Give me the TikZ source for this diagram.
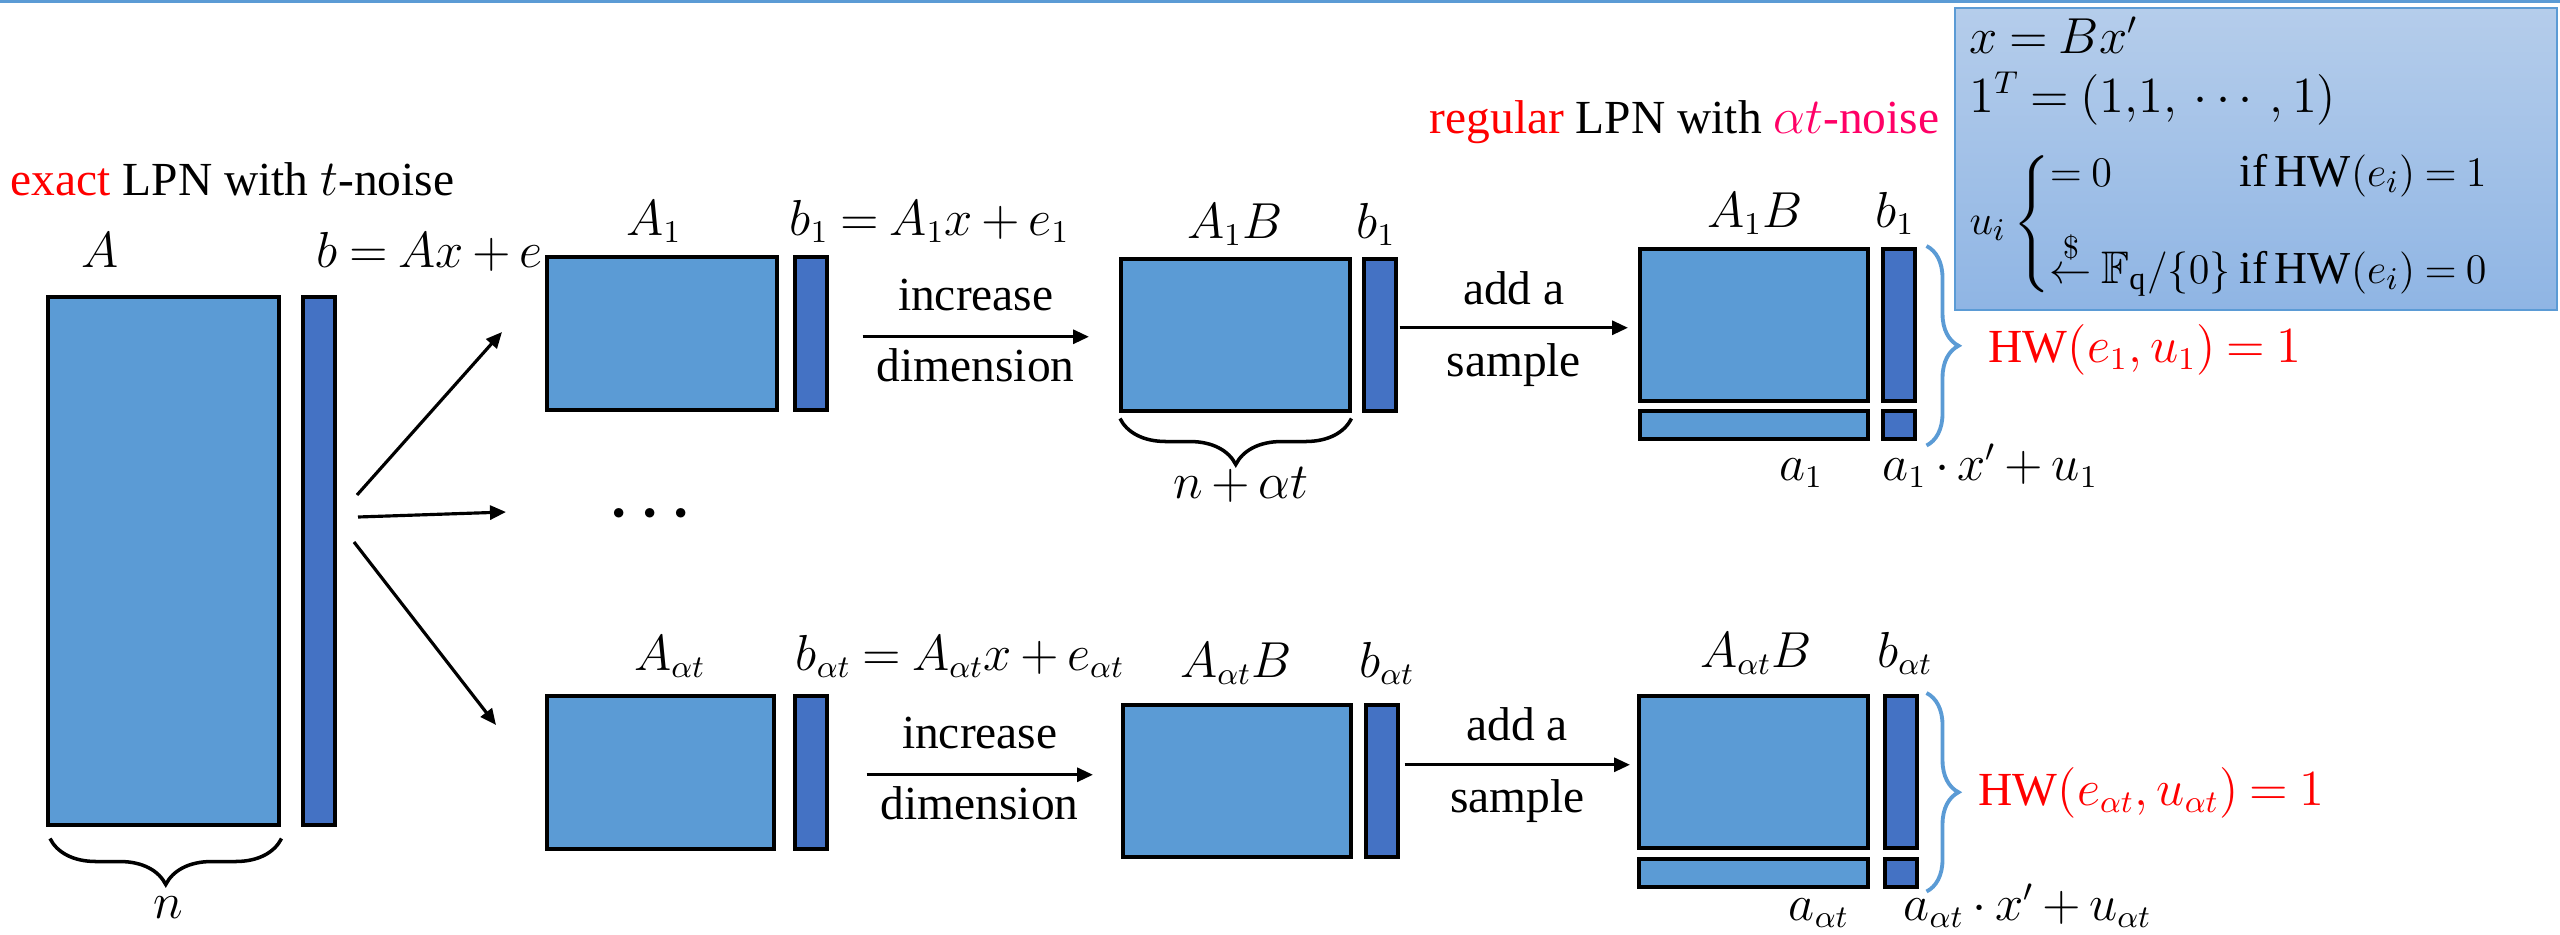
\documentclass[tikz,border=0pt]{standalone}
\usepackage{amsmath,amssymb}
\usepackage{fontspec}
\setmainfont{Liberation Serif}
\usetikzlibrary{arrows.meta,calc,decorations.pathreplacing}
\definecolor{matblue}{RGB}{91,155,213}
\definecolor{vecblue}{RGB}{68,114,196}
\definecolor{boxtop}{RGB}{181,205,235}
\definecolor{boxbot}{RGB}{143,181,228}
\definecolor{lpnpink}{RGB}{255,0,102}
\thickmuskip=4mu plus 2mu
\medmuskip=3mu plus 1mu minus 2mu
\begin{document}
\begin{tikzpicture}[x=0.1mm, y=-0.1mm,
  every node/.style={font=\fontsize{13.5}{16}\selectfont, inner sep=0pt},
  mat/.style={draw, line width=1pt, fill=matblue, anchor=north west},
  vec/.style={draw, line width=1pt, fill=vecblue, anchor=north west, minimum width=3.2mm},
  arr/.style={-{Triangle[length=1.6mm,width=1.4mm]}, line width=0.9pt},
  bbrace/.style={decorate, decoration={brace, amplitude=4.6mm}, line width=1pt},
  hwbrace/.style={decorate, decoration={brace, amplitude=3.2mm}, line width=1.1pt, matblue}]
\useasboundingbox (0,0) rectangle (2560,934);
\fill[matblue] (0,0) rectangle (2560,3);

% LPN instance with t-noise
\node[anchor=base west] (lexact) at (10,195) {\textcolor{red}{exact} LPN with $t$-noise};
\node[anchor=base] (lA) at (100,267) {$A$};
\node[anchor=base west] (lb) at (316,267) {$b = Ax + e$};
\node[mat, minimum width=23.1mm, minimum height=52.8mm] (A) at (46,295) {};
\node[vec, minimum height=52.8mm] (b) at (301,295) {};
\draw[bbrace] ($(A.south east)+(1,12)$) -- ($(A.south west)+(4,12)$);
\node[anchor=base] (ln) at (168,918) {$n$};

% split
\coordinate (fanup) at (357,495);
\coordinate (fanmid) at (358,517);
\coordinate (fanlow) at (354,542);
\coordinate (tipup) at (502,332);
\coordinate (tipmid) at (506,512);
\coordinate (tiplow) at (496,725);
\draw[arr] (fanup) -- (tipup);
\draw[arr] (fanmid) -- (tipmid);
\draw[arr] (fanlow) -- (tiplow);
\node (ldots) at (656,514) {\fontsize{18}{20}\selectfont$\boldsymbol{\cdots}$};

% first sample block
\node[mat, minimum width=23mm, minimum height=15.3mm] (A1) at (545,255) {};
\node[vec, minimum height=15.3mm] (b1) at (793,255) {};
\node[anchor=base] (lA1) at (654,235) {$A_1$};
\node[anchor=base west] (lb1) at (789,235) {$b_1 = A_1x + e_1$};

\node[mat, minimum width=22.9mm, minimum height=15.2mm] (A1B) at (1119,257) {};
\node[vec, minimum height=15.2mm] (b1B) at (1362,257) {};
\node[anchor=base] (lA1B) at (1235,238) {$A_1B$};
\node[anchor=base] (lb1B) at (1376,238) {$b_1$};
\draw[bbrace] ($(A1B.south east)+(0,6)$) -- ($(A1B.south west)+(1,6)$);
\node[anchor=base] (lnat) at (1241,498) {$n + \alpha t$};

\draw[arr] ($(b1.east)+(34,3.5)$) -- ($(b1.east -| A1B.west)+(-30,3.5)$)
  node[midway, anchor=base, yshift=2.6mm] {increase}
  node[midway, anchor=base, yshift=-4.5mm] {dimension};

\node[mat, minimum width=22.8mm, minimum height=15.2mm] (A1Br) at (1638,247) {};
\node[vec, minimum height=15.2mm] (b1r) at (1881,247) {};
\node[mat, minimum width=22.8mm, minimum height=2.8mm] (a1) at (1638,409) {};
\node[vec, minimum height=2.8mm] (u1) at (1881,409) {};
\node[anchor=base] (lA1Br) at (1755,227) {$A_1B$};
\node[anchor=base] (lb1r) at (1895,227) {$b_1$};
\node[anchor=base] (la1) at (1801,480) {$a_1$};
\node[anchor=base west] (lax1) at (1882,480) {$a_1 \cdot x' + u_1$};
\draw[hwbrace] ($(b1r.north east)+(10,-1)$) -- ($(u1.south east)+(10,5)$);
\node[anchor=base west, text=red] (lhw1) at (1988,362) {$\mathrm{HW}(e_1,u_1) = 1$};

\draw[arr] ($(b1B.east)+(2,-7)$) -- ($(b1B.east -| A1Br.west)+(-10,-7)$)
  node[midway, anchor=base, yshift=2.3mm] {add a}
  node[midway, anchor=base, yshift=-4.9mm] {sample};

% last sample block
\node[mat, minimum width=22.7mm, minimum height=15.3mm] (Aat) at (545,694) {};
\node[vec, minimum height=15.3mm] (bat) at (793,694) {};
\node[anchor=base] (lAat) at (670,670) {$A_{\alpha t}$};
\node[anchor=base west] (lbat) at (795,670) {$b_{\alpha t} = A_{\alpha t}x + e_{\alpha t}$};

\node[mat, minimum width=22.8mm, minimum height=15.2mm] (AatB) at (1121,703) {};
\node[vec, minimum height=15.2mm] (batB) at (1364,703) {};
\node[anchor=base] (lAatB) at (1236,677) {$A_{\alpha t}B$};
\node[anchor=base] (lbatB) at (1387,677) {$b_{\alpha t}$};

\draw[arr] ($(bat.east)+(38,2.5)$) -- ($(bat.east -| AatB.west)+(-28,2.5)$)
  node[midway, anchor=base, yshift=2.6mm] {increase}
  node[midway, anchor=base, yshift=-4.5mm] {dimension};

\node[mat, minimum width=22.9mm, minimum height=15.2mm] (AatBr) at (1637,694) {};
\node[vec, minimum height=15.2mm] (batr) at (1883,694) {};
\node[mat, minimum width=22.9mm, minimum height=2.8mm] (aat) at (1637,857) {};
\node[vec, minimum height=2.8mm] (uat) at (1883,857) {};
\node[anchor=base] (lAatBr) at (1756,667) {$A_{\alpha t}B$};
\node[anchor=base] (lbatr) at (1905,667) {$b_{\alpha t}$};
\node[anchor=base] (laat) at (1819,920) {$a_{\alpha t}$};
\node[anchor=base west] (laxat) at (1903,920) {$a_{\alpha t} \cdot x' + u_{\alpha t}$};
\draw[hwbrace] ($(batr.north east)+(8,-1)$) -- ($(uat.south east)+(8,3)$);
\node[anchor=base west, text=red] (lhwat) at (1978,805) {$\mathrm{HW}(e_{\alpha t},u_{\alpha t}) = 1$};

\draw[arr] ($(batB.east)+(5,-16)$) -- ($(batB.east -| AatBr.west)+(-7,-16)$)
  node[midway, anchor=base, yshift=2.4mm] {add a}
  node[midway, anchor=base, yshift=-4.8mm] {sample};

% regular LPN with the definitions
\node[anchor=base east] (lreg) at (1940,133) {\textcolor{red}{regular} LPN with \textcolor{lpnpink}{$\alpha t$-noise}};
\draw[matblue, line width=0.8pt, top color=boxtop, bottom color=boxbot] (1955,8) rectangle (2557,310);
\node[anchor=base west] (lx) at (1969,53) {$x = Bx'$};
\node[anchor=base west] (lones) at (1969,112) {$1^T = (1{,}1{,}\,\cdots,1)$};
\node[anchor=west, font=\fontsize{13}{15.5}\selectfont] (lu) at (1969,224) {$u_i \left\{\begin{array}{@{}l@{\;}l@{}}
  = 0 & \mathrm{if}\,\mathrm{HW}(e_i) = 1\\[8pt]
  \stackrel{\$}{\leftarrow} \mathbb{F}_{\mathrm{q}}/\{0\} & \mathrm{if}\,\mathrm{HW}(e_i) = 0
  \end{array}\right.$};
\end{tikzpicture}
\end{document}
